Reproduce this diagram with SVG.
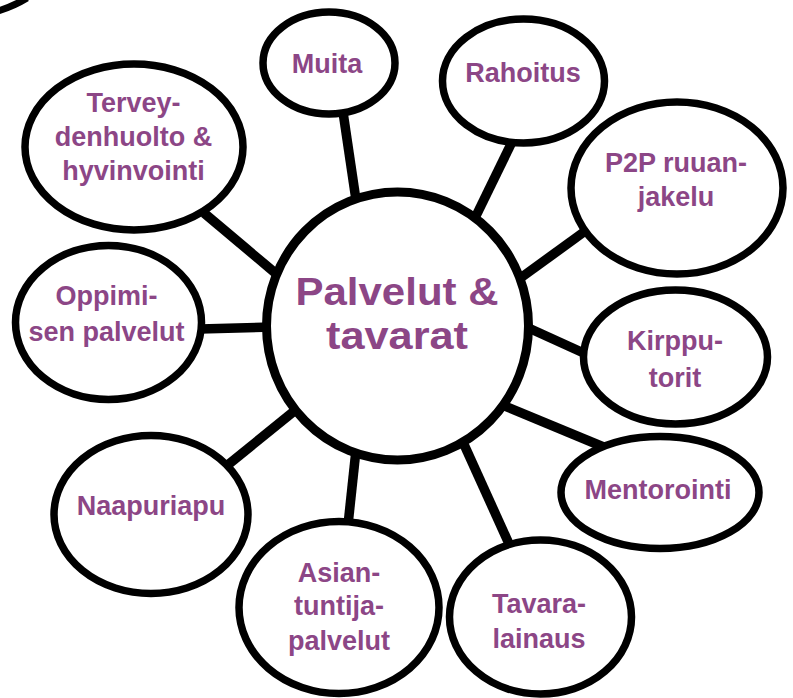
<svg xmlns="http://www.w3.org/2000/svg" width="793" height="698" viewBox="0 0 793 698">
<style>
.n{fill:#fff;stroke:#000;stroke-width:7.5}
.c{stroke:#000;stroke-width:9.5;stroke-linecap:butt;fill:none}
.t{font-family:"Liberation Sans",Arial,sans-serif;font-weight:bold;font-size:27px;fill:#8c4686;text-anchor:middle}
.big{font-size:38px}
</style>
<rect width="793" height="698" fill="#fff"/>
<path d="M -2 11 Q 14 6 27 -2" fill="none" stroke="#000" stroke-width="7"/>
<g id="connectors">
<line class="c" x1="343" y1="112" x2="356" y2="200"/>
<line class="c" x1="512" y1="142" x2="474" y2="220"/>
<line class="c" x1="588" y1="229" x2="515" y2="282"/>
<line class="c" x1="588" y1="355" x2="522" y2="325"/>
<line class="c" x1="606" y1="448" x2="500" y2="404"/>
<line class="c" x1="510" y1="546" x2="462" y2="440"/>
<line class="c" x1="348" y1="525" x2="356" y2="450"/>
<line class="c" x1="224" y1="468" x2="298" y2="408"/>
<line class="c" x1="200" y1="329" x2="272" y2="327"/>
<line class="c" x1="204" y1="213" x2="280" y2="277"/>
</g>
<g id="center">
<ellipse class="n" cx="397.5" cy="326" rx="131" ry="134" style="stroke-width:9"/>
<text class="t big" x="397" y="305" textLength="203" lengthAdjust="spacingAndGlyphs">Palvelut &amp;</text>
<text class="t big" x="397" y="349" textLength="142" lengthAdjust="spacingAndGlyphs">tavarat</text>
</g>
<g id="muita">
<ellipse class="n" cx="329" cy="63" rx="66" ry="51"/>
<text class="t" x="327" y="73">Muita</text>
</g>
<g id="rahoitus">
<ellipse class="n" cx="523.5" cy="81" rx="81" ry="62"/>
<text class="t" x="523" y="82">Rahoitus</text>
</g>
<g id="p2p">
<ellipse class="n" cx="677" cy="188" rx="106" ry="86"/>
<text class="t" x="676" y="172">P2P ruuan-</text>
<text class="t" x="676" y="206">jakelu</text>
</g>
<g id="kirpputorit">
<ellipse class="n" cx="675.5" cy="357" rx="92" ry="67"/>
<text class="t" x="675" y="350">Kirppu-</text>
<text class="t" x="675" y="387">torit</text>
</g>
<g id="mentorointi">
<ellipse class="n" cx="660" cy="492.5" rx="99" ry="56"/>
<text class="t" x="658" y="499">Mentorointi</text>
</g>
<g id="tavaralainaus">
<ellipse class="n" cx="540.5" cy="617" rx="91" ry="77"/>
<text class="t" x="539" y="613">Tavara-</text>
<text class="t" x="539" y="648">lainaus</text>
</g>
<g id="asiantuntija">
<ellipse class="n" cx="339" cy="607.5" rx="100" ry="86"/>
<text class="t" x="339" y="582">Asian-</text>
<text class="t" x="339" y="615">tuntija-</text>
<text class="t" x="339" y="650">palvelut</text>
</g>
<g id="naapuriapu">
<ellipse class="n" cx="151" cy="514.5" rx="97" ry="79"/>
<text class="t" x="151" y="515">Naapuriapu</text>
</g>
<g id="oppimisen">
<ellipse class="n" cx="108.5" cy="322.5" rx="93" ry="77"/>
<text class="t" x="106.5" y="305">Oppimi-</text>
<text class="t" x="106.5" y="341">sen palvelut</text>
</g>
<g id="terveys">
<ellipse class="n" cx="134" cy="147" rx="109" ry="83"/>
<text class="t" x="133.5" y="112">Tervey-</text>
<text class="t" x="133.5" y="146">denhuolto &amp;</text>
<text class="t" x="133.5" y="180">hyvinvointi</text>
</g>
</svg>
